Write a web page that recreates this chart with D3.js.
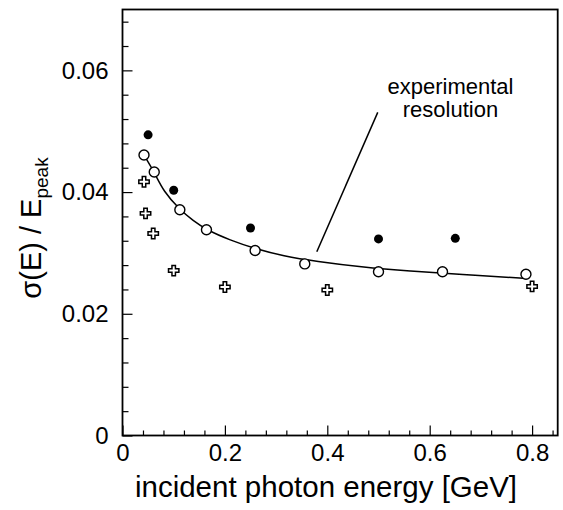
<!DOCTYPE html>
<html>
<head>
<meta charset="utf-8">
<script src="https://cdn.jsdelivr.net/npm/d3@7"></script>
<style>
  body { margin: 0; background: #fff; }
  svg { display: block; font-family: "Liberation Sans", Arial, Helvetica, sans-serif; }
</style>
</head>
<body>
<div class="chart"></div>
<script>
'use strict';

// filled circles
var filledX = [0.05, 0.10, 0.25, 0.50, 0.65];
var filledY = [0.0494, 0.0403, 0.0341, 0.0323, 0.0324];
// open circles
var openX = [0.042, 0.062, 0.112, 0.164, 0.259, 0.356, 0.500, 0.625, 0.788];
var openY = [0.0461, 0.0433, 0.0371, 0.0338, 0.0304, 0.0282, 0.0269, 0.0269, 0.0265];
// open crosses
var crossX = [0.042, 0.045, 0.060, 0.100, 0.200, 0.400, 0.800];
var crossY = [0.0417, 0.0365, 0.0332, 0.0271, 0.0244, 0.0239, 0.0245];
// experimental resolution curve
var fitX = [0.044, 0.062, 0.080, 0.112, 0.138, 0.164, 0.210, 0.259, 0.314, 0.379, 0.465, 0.562, 0.659, 0.790];
var fitY = [0.0458, 0.0433, 0.0401, 0.0371, 0.0353, 0.0338, 0.0321, 0.0307, 0.0295, 0.0286, 0.0277, 0.0270, 0.0265, 0.0258];

var xMajor = [0, 0.2, 0.4, 0.6, 0.8];
var yMajor = [0, 0.02, 0.04, 0.06];
var xLabels = ['0', '0.2', '0.4', '0.6', '0.8'];
var yLabels = ['0', '0.02', '0.04', '0.06'];

(function () {

  var width = 563,
      height = 510;
  var left = 122.5, right = 557.7, top = 9.5, bottom = 435.5;

  var x = d3.scaleLinear().domain([0, 0.85]).range([left, right]);
  var y = d3.scaleLinear().domain([0, 0.07]).range([bottom, top]);

  var svg = d3.select('.chart')
    .append('svg')
      .attr('width', width)
      .attr('height', height);

  var xMinor = d3.range(0, 0.8501, 0.04).filter(function(d) {
    return xMajor.every(function(m) { return Math.abs(m - d) > 1e-6; });
  });
  var yMinor = d3.range(0, 0.0701, 0.004).filter(function(d) {
    return yMajor.every(function(m) { return Math.abs(m - d) > 1e-6; });
  });

  // minor ticks
  svg.append('g')
      .attr('transform', 'translate(0,' + bottom + ')')
      .call(d3.axisBottom(x).tickValues(xMinor).tickSize(-5).tickFormat(''));
  svg.append('g')
      .attr('transform', 'translate(' + left + ',0)')
      .call(d3.axisLeft(y).tickValues(yMinor).tickSize(-6).tickFormat(''));

  // major ticks with labels
  svg.append('g')
      .attr('class', 'xaxis')
      .attr('transform', 'translate(0,' + bottom + ')')
      .call(d3.axisBottom(x).tickValues(xMajor).tickSize(-10).tickPadding(8)
        .tickFormat(function(d, i) { return xLabels[i]; }));
  svg.append('g')
      .attr('class', 'yaxis')
      .attr('transform', 'translate(' + left + ',0)')
      .call(d3.axisLeft(y).tickValues(yMajor).tickSize(-10).tickPadding(14)
        .tickFormat(function(d, i) { return yLabels[i]; }));

  svg.selectAll('.domain').remove();
  svg.selectAll('.tick line').attr('stroke', '#000').attr('stroke-width', 1.2);
  svg.selectAll('.tick text')
      .attr('fill', '#000')
      .style('font-size', '24px')
      .style('font-family', '"Liberation Sans", Arial, sans-serif');

  // frame
  svg.append('rect')
      .attr('x', left)
      .attr('y', top)
      .attr('width', right - left)
      .attr('height', bottom - top)
      .attr('fill', 'none')
      .attr('stroke', '#000')
      .attr('stroke-width', 1.8);

  // fit curve
  var line = d3.line()
      .x(function(d) { return x(d[0]); })
      .y(function(d) { return y(d[1]); })
      .curve(d3.curveBasis);
  svg.append('path')
      .datum(d3.zip(fitX, fitY))
      .attr('d', line)
      .attr('fill', 'none')
      .attr('stroke', '#000')
      .attr('stroke-width', 1.5);

  // annotation
  svg.append('line')
      .attr('x1', x(0.4985)).attr('y1', y(0.0531))
      .attr('x2', x(0.3795)).attr('y2', y(0.0302))
      .attr('stroke', '#000')
      .attr('stroke-width', 1.5);
  svg.append('text')
      .attr('x', x(0.6406)).attr('y', y(0.0561))
      .attr('text-anchor', 'middle')
      .style('font-size', '22px')
      .text('experimental');
  svg.append('text')
      .attr('x', x(0.6406)).attr('y', y(0.0523))
      .attr('text-anchor', 'middle')
      .style('font-size', '22px')
      .text('resolution');

  // markers
  svg.append('g').selectAll('circle')
      .data(d3.zip(openX, openY))
    .enter().append('circle')
      .attr('cx', function(d) { return x(d[0]); })
      .attr('cy', function(d) { return y(d[1]); })
      .attr('r', 5)
      .attr('fill', '#fff')
      .attr('stroke', '#000')
      .attr('stroke-width', 1.4);

  svg.append('g').selectAll('circle')
      .data(d3.zip(filledX, filledY))
    .enter().append('circle')
      .attr('cx', function(d) { return x(d[0]); })
      .attr('cy', function(d) { return y(d[1]); })
      .attr('r', 4.5)
      .attr('fill', '#000');

  var cross = d3.symbol().type(d3.symbolCross).size(60);
  svg.append('g').selectAll('path')
      .data(d3.zip(crossX, crossY))
    .enter().append('path')
      .attr('d', cross)
      .attr('transform', function(d) { return 'translate(' + x(d[0]) + ',' + y(d[1]) + ')'; })
      .attr('fill', '#fff')
      .attr('stroke', '#000')
      .attr('stroke-width', 1.5);

  // axis titles
  svg.append('text')
      .attr('x', 326)
      .attr('y', 497)
      .attr('text-anchor', 'middle')
      .style('font-size', '29.5px')
      .text('incident photon energy [GeV]');

  var yt = svg.append('text')
      .attr('transform', 'translate(41,228) rotate(-90)')
      .attr('text-anchor', 'middle')
      .style('font-size', '29px');
  yt.append('tspan').text('σ(E) / E');
  yt.append('tspan')
      .attr('dy', 7)
      .style('font-size', '19px')
      .text('peak');
})();
</script>
</body>
</html>
